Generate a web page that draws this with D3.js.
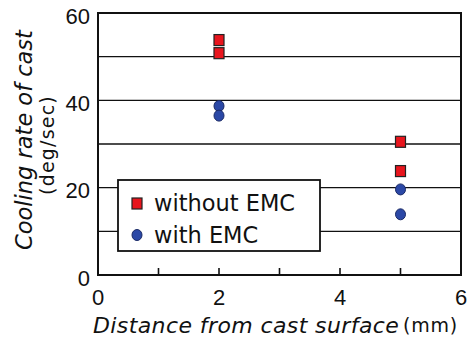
<!DOCTYPE html>
<html>
<head>
<meta charset="utf-8">
<script src="https://cdn.jsdelivr.net/npm/d3@7"></script>
<style>
  body { margin: 0; background: #fff; }
  svg { display: block; }
</style>
</head>
<body>
<svg id="chart" width="467" height="340"></svg>
<script>
// data
const withoutX = [2, 2, 5, 5],
  withoutY = [53.8, 50.8, 30.5, 23.8];
const withX = [2, 2, 5, 5],
  withY = [38.7, 36.5, 19.6, 13.9];
const yLabels = [0, 20, 40, 60],
  gridVals = [10, 20, 30, 40, 50],
  xLabels = [0, 2, 4, 6],
  xMinor = [1, 2, 3, 4, 5];

const margin = { left: 98, right: 6, top: 13, bottom: 65 };
const width = 467, height = 340;

const svg = d3.select("#chart")
  .style("font-family", "'DejaVu Sans', sans-serif");

const x = d3.scaleLinear().domain([0, 6]).range([margin.left, width - margin.right]);
const y = d3.scaleLinear().domain([0, 60]).range([height - margin.bottom, margin.top]);

// grid lines
svg.append("g").selectAll("line").data(gridVals).enter()
  .append("line")
  .attr("x1", x(0)).attr("x2", x(6))
  .attr("y1", d => y(d)).attr("y2", d => y(d))
  .attr("stroke", "#111").attr("stroke-width", 1.4);

// x ticks pointing inward
svg.append("g").selectAll("line").data(xMinor).enter()
  .append("line")
  .attr("x1", d => x(d)).attr("x2", d => x(d))
  .attr("y1", y(0)).attr("y2", y(0) - 7)
  .attr("stroke", "#111").attr("stroke-width", 1.6);

// frame
svg.append("rect")
  .attr("x", x(0)).attr("y", y(60))
  .attr("width", x(6) - x(0)).attr("height", y(0) - y(60))
  .attr("fill", "none").attr("stroke", "#111").attr("stroke-width", 2);

// tick labels
svg.append("g").selectAll("text").data(yLabels).enter()
  .append("text")
  .attr("x", x(0) - 8).attr("y", d => y(d) + 10.5)
  .attr("text-anchor", "end")
  .style("font-family", "'Liberation Sans', Arial, sans-serif")
  .style("font-size", "22px").attr("fill", "#111")
  .text(d => d);

svg.append("g").selectAll("text").data(xLabels).enter()
  .append("text")
  .attr("x", d => x(d)).attr("y", y(0) + 30)
  .attr("text-anchor", "middle")
  .style("font-family", "'Liberation Sans', Arial, sans-serif")
  .style("font-size", "22px").attr("fill", "#111")
  .text(d => d);

// axis titles
svg.append("text")
  .attr("x", 93).attr("y", 333)
  .style("font-size", "22px").style("font-style", "italic")
  .style("letter-spacing", "0.4px").attr("fill", "#111")
  .text("Distance from cast surface");
svg.append("text")
  .attr("x", 458).attr("y", 332)
  .attr("text-anchor", "end")
  .style("font-size", "19px").style("letter-spacing", "0.8px").attr("fill", "#111")
  .text("(mm)");

svg.append("text")
  .attr("transform", "translate(32,140) rotate(-90)")
  .attr("text-anchor", "middle")
  .style("font-size", "22.5px").style("font-style", "italic").attr("fill", "#111")
  .text("Cooling rate of cast");

svg.append("text")
  .attr("transform", "translate(54,145) rotate(-90)")
  .attr("text-anchor", "middle")
  .style("font-size", "19px").style("letter-spacing", "1.2px").attr("fill", "#111")
  .text("(deg/sec)");

// points
const red = "#e8151d", blue = "#2b48a6";

svg.append("g").selectAll("rect").data(withoutX).enter()
  .append("rect")
  .attr("x", (d, i) => x(d) - 5).attr("y", (d, i) => y(withoutY[i]) - 5.5)
  .attr("width", 10).attr("height", 11)
  .attr("fill", red).attr("stroke", "#222").attr("stroke-width", 1.2);

svg.append("g").selectAll("ellipse").data(withX).enter()
  .append("ellipse")
  .attr("cx", d => x(d)).attr("cy", (d, i) => y(withY[i]))
  .attr("rx", 5).attr("ry", 5.5)
  .attr("fill", blue).attr("stroke", "#1a2a66").attr("stroke-width", 1);

// legend
const lg = svg.append("g");
lg.append("rect")
  .attr("x", 118).attr("y", 180).attr("width", 202).attr("height", 71)
  .attr("fill", "#fff").attr("stroke", "#111").attr("stroke-width", 1.8);
lg.append("rect")
  .attr("x", 132).attr("y", 198).attr("width", 10).attr("height", 11)
  .attr("fill", red).attr("stroke", "#222").attr("stroke-width", 1.2);
lg.append("ellipse")
  .attr("cx", 137).attr("cy", 235).attr("rx", 5).attr("ry", 5.5)
  .attr("fill", blue).attr("stroke", "#1a2a66").attr("stroke-width", 1);
lg.append("text").attr("x", 154).attr("y", 211)
  .style("font-size", "22.5px").attr("fill", "#111").text("without EMC");
lg.append("text").attr("x", 154).attr("y", 243)
  .style("font-size", "22.5px").attr("fill", "#111").text("with EMC");
</script>
</body>
</html>
